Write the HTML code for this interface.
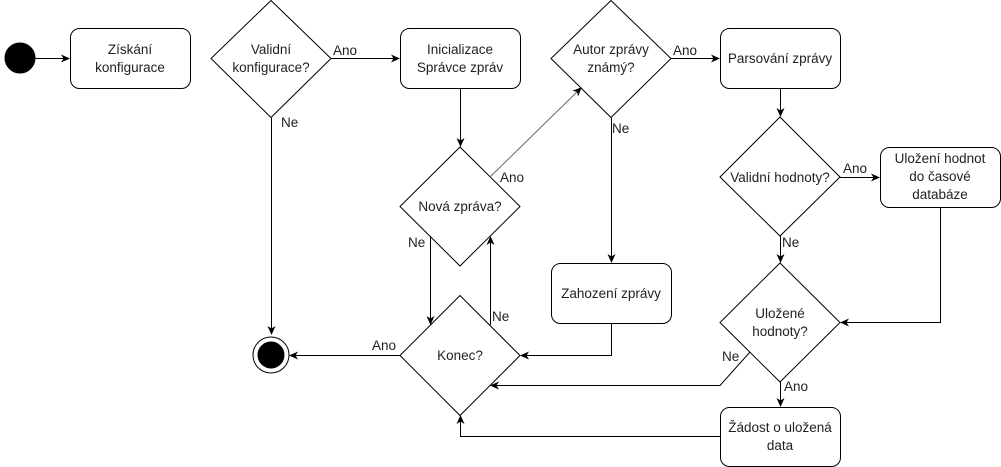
<!DOCTYPE html>
<html><head><meta charset="utf-8"><style>body{margin:0;background:#fff}svg{display:block}text{font-family:"Liberation Sans",Arial,sans-serif;font-size:13.5px;fill:#222}</style></head><body>
<svg width="1001" height="467" viewBox="0 0 1001 467" xmlns="http://www.w3.org/2000/svg">
<defs><marker id="a" markerWidth="10" markerHeight="10" refX="8" refY="5" orient="auto" markerUnits="userSpaceOnUse"><path d="M0,1 L9,5 L0,9 L2.5,5 Z" fill="#000"/></marker>
<marker id="g" markerWidth="10" markerHeight="10" refX="8" refY="5" orient="auto" markerUnits="userSpaceOnUse"><path d="M0,1 L9,5 L0,9 L2.5,5 Z" fill="#000"/></marker></defs>
<g fill="#fff" stroke="#000" stroke-width="1">
<circle cx="20" cy="58" r="15" fill="#000"/>
<rect x="70.5" y="28.5" width="120" height="60" rx="9"/>
<polygon points="271,0.5 331,58.5 271,117.5 211,58.5"/>
<rect x="400.5" y="28.5" width="120" height="60" rx="9"/>
<polygon points="460,147 520,206.5 460,266 400,206.5"/>
<polygon points="611,0.5 671,58.5 611,117.5 551,58.5"/>
<rect x="720.5" y="28.5" width="120" height="60" rx="9"/>
<rect x="551.5" y="263.5" width="120" height="60" rx="9"/>
<polygon points="460,295.5 520,355.5 460,415.5 400,355.5"/>
<circle cx="271" cy="355" r="18"/>
<circle cx="271" cy="355" r="13" fill="#000"/>
<polygon points="780,117 840,177 780,236 720,177"/>
<rect x="880.5" y="147.5" width="120" height="60" rx="9"/>
<polygon points="780,263 840,322.5 780,382 720,322.5"/>
<rect x="720.5" y="407.5" width="120" height="59" rx="9"/>
</g>
<g fill="none" stroke="#000" stroke-width="1">
<path d="M35,58.5 H69" marker-end="url(#a)"/>
<path d="M331,58.5 H399" marker-end="url(#a)"/>
<path d="M271.5,118 V334" marker-end="url(#a)"/>
<path d="M460.5,89 V146" marker-end="url(#a)"/>
<path d="M490,177 L581,88" stroke="#666" marker-end="url(#g)"/>
<path d="M671,58.5 H719" marker-end="url(#a)"/>
<path d="M611.5,118 V262" marker-end="url(#a)"/>
<path d="M611.5,324 V355.5 H521" marker-end="url(#a)"/>
<path d="M430.5,236 V324" marker-end="url(#a)"/>
<path d="M490.5,325 V237" marker-end="url(#a)"/>
<path d="M400,355.5 H290" marker-end="url(#a)"/>
<path d="M780.5,89 V116" marker-end="url(#a)"/>
<path d="M840,177.5 H879" marker-end="url(#a)"/>
<path d="M780.5,236 V262" marker-end="url(#a)"/>
<path d="M940.5,208 V322.5 H841" marker-end="url(#a)"/>
<path d="M750,352 L720,385.5 H491" marker-end="url(#a)"/>
<path d="M780.5,382 V406" marker-end="url(#a)"/>
<path d="M720,436.5 H460.5 V416" marker-end="url(#a)"/>
</g>
<g text-anchor="middle">
<text x="130" y="54">Získání</text><text x="130" y="72">konfigurace</text>
<text x="271" y="54">Validní</text><text x="271" y="72">konfigurace?</text>
<text x="460" y="54">Inicializace</text><text x="460" y="72">Správce zpráv</text>
<text x="460" y="211">Nová zpráva?</text>
<text x="611" y="54">Autor zprávy</text><text x="611" y="72">známý?</text>
<text x="780" y="63">Parsování zprávy</text>
<text x="611" y="298">Zahození zprávy</text>
<text x="460" y="360">Konec?</text>
<text x="780" y="182">Validní hodnoty?</text>
<text x="940" y="163">Uložení hodnot</text><text x="940" y="181">do časové</text><text x="940" y="199">databáze</text>
<text x="780" y="318">Uložené</text><text x="780" y="336">hodnoty?</text>
<text x="780" y="432">Žádost o uložená</text><text x="780" y="450">data</text>
</g>
<g>
<text x="333" y="55">Ano</text>
<text x="281" y="127">Ne</text>
<text x="500" y="182">Ano</text>
<text x="673" y="55">Ano</text>
<text x="612" y="133">Ne</text>
<text x="408" y="247">Ne</text>
<text x="492" y="321">Ne</text>
<text x="372" y="350">Ano</text>
<text x="843" y="173">Ano</text>
<text x="782" y="247">Ne</text>
<text x="722" y="361">Ne</text>
<text x="784" y="391">Ano</text>
</g>
</svg>
</body></html>
